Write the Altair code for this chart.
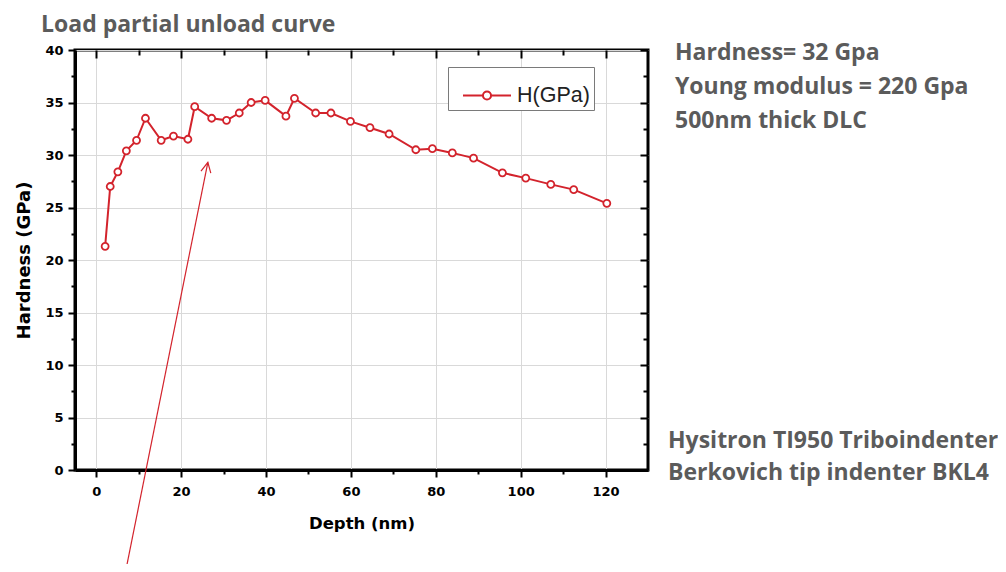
import altair as alt
import pandas as pd

# ---------------- data ----------------
depth_nm = [2.1, 3.3, 5.1, 7.1, 9.5, 11.6, 15.3, 18.2, 21.6, 23.2, 27.2, 30.7,
            33.7, 36.5, 39.8, 44.7, 46.7, 51.7, 55.3, 59.9, 64.5, 69.0, 75.3,
            79.2, 83.9, 88.9, 95.7, 101.2, 107.1, 112.5, 120.3]
hardness_gpa = [21.3, 27.0, 28.4, 30.4, 31.4, 33.5, 31.4, 31.8, 31.5, 34.6, 33.5,
                33.3, 34.0, 35.0, 35.2, 33.7, 35.4, 34.0, 34.0, 33.2, 32.6, 32.0,
                30.5, 30.6, 30.2, 29.7, 28.3, 27.8, 27.2, 26.7, 25.4]
series_name = "H(GPa)"

x_domain = [-5, 130]
y_domain = [0, 40]
x_major = [0, 20, 40, 60, 80, 100, 120]
x_minor = [10, 30, 50, 70, 90, 110]
y_major = [0, 5, 10, 15, 20, 25, 30, 35, 40]
y_minor = [2.5, 7.5, 12.5, 17.5, 22.5, 27.5, 32.5, 37.5]

# annotation arrow (data units): tail, head
arrow_depth = [7.1, 26.3]
arrow_hardness = [-9.3, 29.3]

title_text = "Load partial unload curve"
info_lines = ["Hardness= 32 Gpa", "Young modulus = 220 Gpa", "500nm thick DLC"]
instrument_lines = ["Hysitron TI950  Triboindenter", "Berkovich tip indenter BKL4"]

# ---------------- styling ----------------
RED = "#d3232c"
GRAY_TEXT = "#5b5b5b"
AX_FONT = "DejaVu Sans"
TXT_FONT = "Open Sans"
W, H = 573, 420

df = pd.DataFrame({"Depth": depth_nm, "H": hardness_gpa, "series": series_name})
arrow_df = pd.DataFrame({"d0": [arrow_depth[0]], "h0": [arrow_hardness[0]],
                         "d1": [arrow_depth[1]], "h1": [arrow_hardness[1]]})

xs = alt.Scale(domain=x_domain, nice=False, zero=False)
ys = alt.Scale(domain=y_domain, nice=False, zero=False)


def tick_axis(orient, values, size, offset=0):
    return alt.Axis(orient=orient, values=values, labels=False, title=None,
                    grid=False, domain=False, ticks=True, tickSize=size,
                    tickWidth=2, tickColor="black", offset=offset)


legend_symbol = ("M-1,0L-0.17,0M0.17,0L1,0"
                 "M0.17,0A0.17,0.17,0,1,1,-0.17,0A0.17,0.17,0,1,1,0.17,0")

line = alt.Chart(df).mark_line(strokeWidth=2).encode(
    x=alt.X("Depth:Q", scale=xs,
            axis=alt.Axis(orient="bottom", values=x_major, title="Depth (nm)",
                          grid=True, gridColor="#d9d9d9", gridWidth=1,
                          domain=True, domainColor="black", domainWidth=3,
                          tickSize=7, tickWidth=2, tickColor="black",
                          labelFont=AX_FONT, labelFontSize=13, labelFontWeight="bold",
                          labelColor="black", labelPadding=8,
                          titleFont=AX_FONT, titleFontSize=16.5, titleFontWeight="bold",
                          titleColor="black", titlePadding=17)),
    y=alt.Y("H:Q", scale=ys,
            axis=alt.Axis(orient="left", values=y_major, title="Hardness (GPa)",
                          grid=True, gridColor="#d9d9d9", gridWidth=1,
                          domain=True, domainColor="black", domainWidth=3,
                          tickSize=7, tickWidth=2, tickColor="black",
                          labelFont=AX_FONT, labelFontSize=13, labelFontWeight="bold",
                          labelColor="black", labelPadding=5,
                          titleFont=AX_FONT, titleFontSize=18, titleFontWeight="bold",
                          titleColor="black", titlePadding=11)),
    color=alt.Color("series:N", scale=alt.Scale(range=[RED]),
                    legend=alt.Legend(title=None, orient="none", legendX=373, legendY=17,
                                      symbolType=legend_symbol, symbolSize=2304,
                                      symbolStrokeWidth=2, symbolStrokeColor=RED,
                                      symbolFillColor="white",
                                      labelFont="Liberation Sans", labelFontSize=21.5,
                                      labelColor="#222222", labelOffset=5,
                                      strokeColor="#7a7a7a", fillColor="white",
                                      padding=3.5, symbolOffset=10.5)),
)

points = alt.Chart(df).mark_point(shape="circle", size=49, filled=False, fill="white",
                                  fillOpacity=1, stroke=RED, strokeWidth=1.8,
                                  opacity=1).encode(
    x=alt.X("Depth:Q", scale=xs, axis=tick_axis("bottom", x_minor, 4)),
    y=alt.Y("H:Q", scale=ys, axis=tick_axis("left", y_minor, 4)),
)

arrow = alt.Chart(arrow_df).mark_rule(color=RED, strokeWidth=1.2).encode(
    x=alt.X("d0:Q", scale=xs, axis=tick_axis("top", x_major, 8, -8)),
    x2="d1:Q",
    y=alt.Y("h0:Q", scale=ys, axis=tick_axis("right", y_major, 8, -8)),
    y2="h1:Q",
)

arrow_head = alt.Chart(arrow_df).mark_point(shape="M-1,2L0,0L1,2", size=100, angle=11.3,
                                            filled=False, stroke=RED, strokeWidth=1.2,
                                            opacity=1).encode(
    x=alt.X("d1:Q", scale=xs, axis=tick_axis("top", x_minor, 5, -5)),
    y=alt.Y("h1:Q", scale=ys, axis=tick_axis("right", y_minor, 5, -5)),
)


def text_block(lines, x, y, line_height):
    return alt.Chart(pd.DataFrame({"t": [0]})).mark_text(
        text=lines, align="left", baseline="alphabetic", font=TXT_FONT,
        fontSize=23, fontWeight="bold", color=GRAY_TEXT, lineHeight=line_height,
    ).encode(x=alt.value(x), y=alt.value(y))


title_t = text_block(title_text, -34, -18, 30)
info_t = text_block(info_lines, 600, 10, 34)
inst_t = text_block(instrument_lines, 593, 398, 32)

chart = alt.layer(line, points, arrow, arrow_head, title_t, info_t, inst_t).resolve_axis(
    x="independent", y="independent"
).properties(
    width=W, height=H,
    autosize=alt.AutoSizeParams(type="none"),
    padding={"left": 67, "top": 42, "right": 350, "bottom": 94},
).configure_view(stroke="black", strokeWidth=3)

chart.save("out.html", embed_options={"renderer": "svg", "actions": False})
